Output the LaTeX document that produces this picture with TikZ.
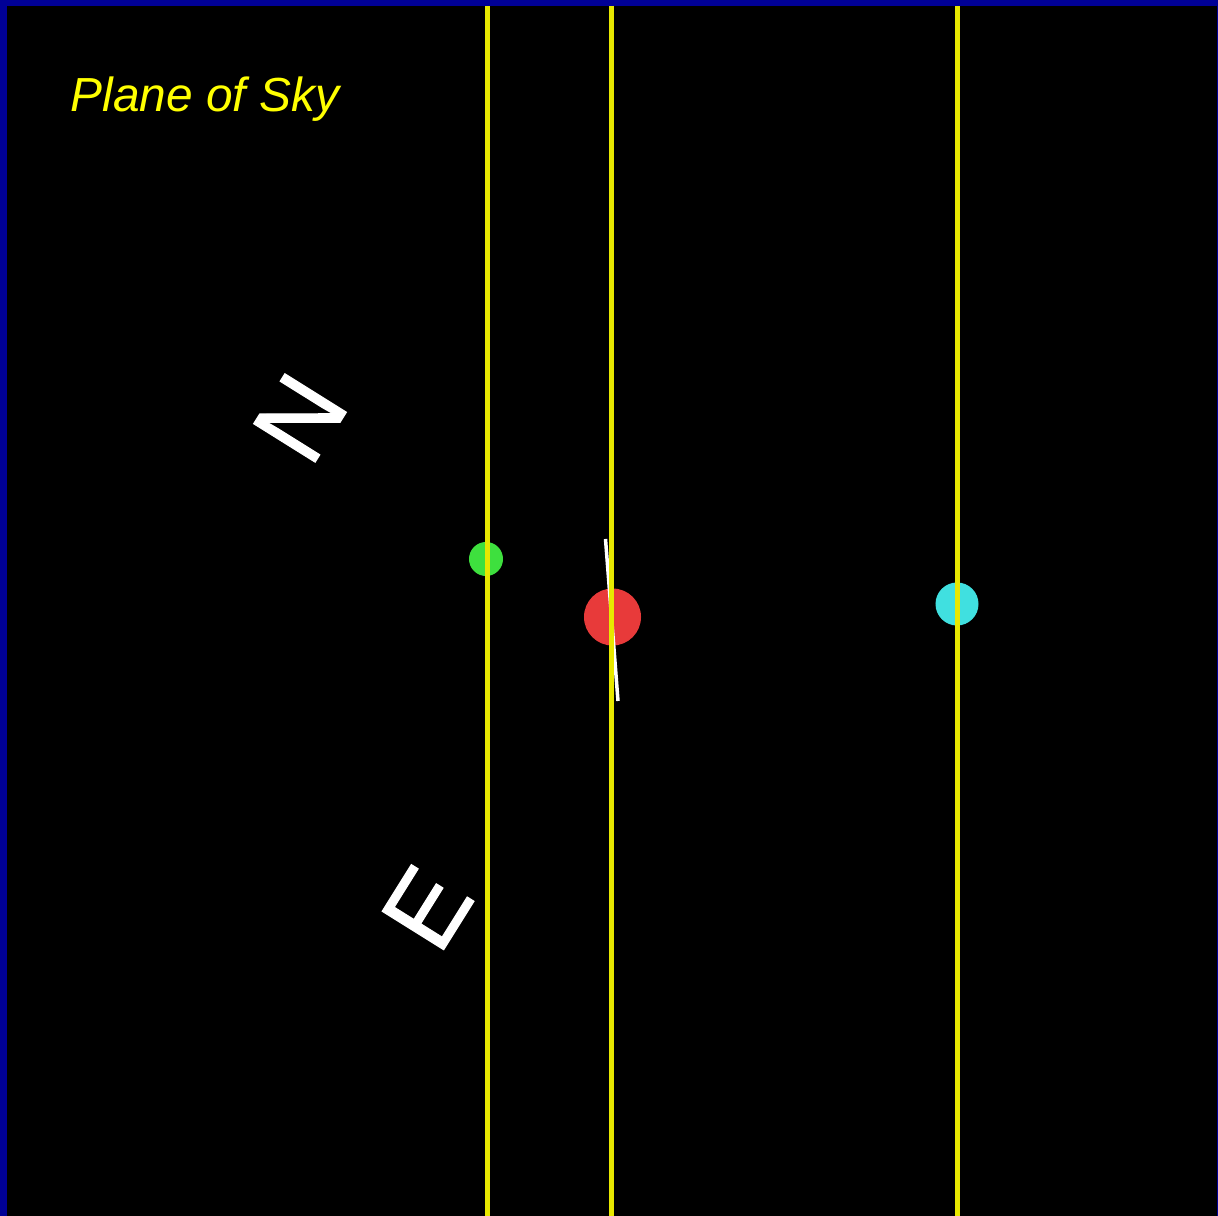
\documentclass[tikz,border=0pt]{standalone}
\usepackage{fontspec}
\setmainfont{Liberation Sans}
\newfontfamily\compassfont[FakeBold=1]{Liberation Sans}
\usetikzlibrary{positioning}
\definecolor{frameblue}{RGB}{0,0,150}
\definecolor{trackyellow}{RGB}{232,232,0}
\definecolor{titleyellow}{RGB}{255,255,0}
\definecolor{dotgreen}{RGB}{62,224,62}
\definecolor{dotred}{RGB}{232,58,58}
\definecolor{dotcyan}{RGB}{64,224,224}
\tikzset{
    dot/.style = {circle, draw=none, inner sep=0pt},
    track/.style = {draw=trackyellow, line width=0.05cm},
    compass/.style = {text=white, inner sep=0pt, rotate=58, font=\compassfont\fontsize{30}{30}\selectfont},
    caption/.style = {text=titleyellow, inner sep=0pt, anchor=base west, font=\fontsize{13.6}{16}\selectfont\itshape}
}

\begin{document}
\begin{tikzpicture}[x=0.01cm, y=-0.01cm]
    \useasboundingbox (0,0) rectangle (1218,1216);
    \fill[frameblue] (0,0) rectangle (1218,1216);
    \fill[black] (7,6) rectangle (1217,1216);

    \node[caption] (title) at (70,112) {Plane of Sky};
    \node[compass] (north) at (300,418) {N};
    \node[compass] (east) at (427,908) {E};

    % the three bodies
    \node[dot, fill=dotgreen, minimum size=0.34cm] (green) at (486,559) {};
    \node[dot, fill=dotred, minimum size=0.57cm] (red) at (612.5,617) {};
    \node[dot, fill=dotcyan, minimum size=0.43cm] (cyan) at (957,604) {};

    \draw[white, line width=0.035cm] (605.5,539) -- (618,701);

    % tracks
    \foreach \x in {487.5, 611, 957.5}
        \draw[track] (\x,6) -- (\x,1216);
\end{tikzpicture}
\end{document}
